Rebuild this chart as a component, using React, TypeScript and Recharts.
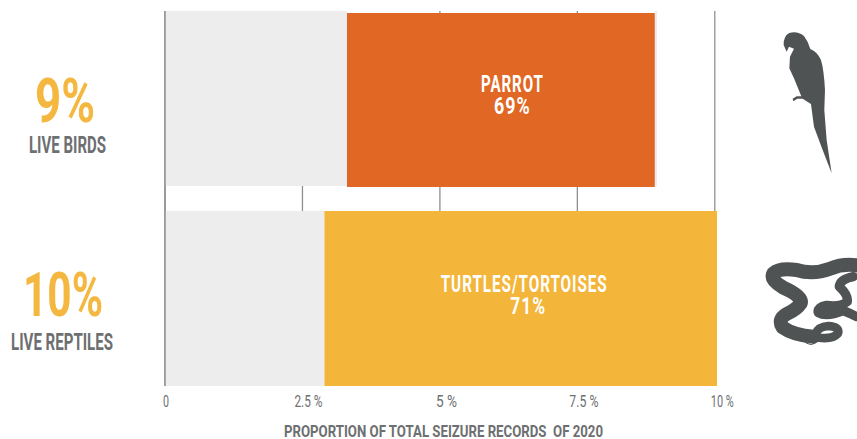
import React from 'react';
import { BarChart, Bar, XAxis, YAxis, CartesianGrid, LabelList } from 'recharts';

const categories = ['LIVE BIRDS', 'LIVE REPTILES'];
const shares = ['9%', '10%'];
const leadGrey = [3.31, 2.9];
const parrot = [5.6, 0];
const turtles = [0, 7.14];
const tailGrey = [0.04, 0];
const barTitles = ['PARROT', 'TURTLES/TORTOISES'];
const barShares = ['69%', '71%'];
const xTicks = [0, 2.5, 5, 7.5, 10];
const xTickLabels = ['0', '2.5 %', '5 %', '7.5 %', '10 %'];
const axisTitle = 'PROPORTION OF TOTAL SEIZURE RECORDS  OF 2020';

const data = categories.map((name, i) => ({
  name,
  share: shares[i],
  leadGrey: leadGrey[i],
  parrot: parrot[i],
  turtles: turtles[i],
  tailGrey: tailGrey[i],
  title: barTitles[i],
}));

const FONT = 'Roboto, "Liberation Sans", sans-serif';
const GREY = '#6d6f71';
const YELLOW = '#f4b740';
const SIL = '#505354';

const CategoryTick = (props: any) => {
  const { y, payload, index } = props;
  const first = index === 0;
  return (
    <g fontFamily={FONT} textAnchor="middle">
      <text x={first ? 65 : 63} y={y + (first ? 24 : 18)} fontSize={62} fontWeight={700} fill={YELLOW} textLength={first ? 60 : 80} lengthAdjust="spacingAndGlyphs">
        {shares[index]}
      </text>
      <text x={first ? 67.5 : 62} y={y + (first ? 55 : 52)} fontSize={24} fontWeight={700} fill={GREY} textLength={first ? 77 : 102} lengthAdjust="spacingAndGlyphs">
        {payload.value}
      </text>
    </g>
  );
};

const tickWidths = [6, 28, 21, 29, 23];
const tickOffsets = [1, 6, 6.5, 6.5, 7.5];
const ValueTick = (props: any) => {
  const { x, y, index } = props;
  return (
    <text x={x + tickOffsets[index]} y={y + 9} textAnchor="middle" fontFamily={FONT} fontSize={16} fill={GREY} textLength={tickWidths[index]} lengthAdjust="spacingAndGlyphs">
      {xTickLabels[index]}
    </text>
  );
};

const BarCaption = (props: any) => {
  const { x, y, width, height, value } = props;
  if (!width) return null;
  const i = barTitles.indexOf(value);
  const first = i === 0;
  const cx = x + width / 2 + (first ? 11.5 : 3.5);
  const cy = y + height / 2;
  return (
    <g fontFamily={FONT} fontWeight={700} fontSize={24} fill="#fff" textAnchor="middle" letterSpacing={1.5}>
      <text x={cx} y={cy - 7} textLength={first ? 63 : 167} lengthAdjust="spacingAndGlyphs">{barTitles[i]}</text>
      <text x={first ? cx : cx + 4} y={cy + 15} textLength={first ? 37 : 36} lengthAdjust="spacingAndGlyphs">{barShares[i]}</text>
    </g>
  );
};

const OrangeShape = (props: any) => {
  const { x, y, width, height, fill } = props;
  if (!width) return null;
  return <rect x={x} y={y + 2} width={width} height={height - 1} fill={fill} />;
};

const AxisTitle = () => (
  <text x={443.5} y={437} textAnchor="middle" fontFamily={FONT} fontWeight={700} fontSize={17} fill={GREY} textLength={319} lengthAdjust="spacingAndGlyphs" xmlSpace="preserve">
    {axisTitle}
  </text>
);

const Parrot = () => (
  <path
    fill={SIL}
    transform="translate(640 0) scale(0.3333)"
    d="M440 155 L431 135 Q430 108 448 99 Q472 92 492 108 Q505 125 511 147 Q532 155 543 180 Q552 210 555 270 L553 330 L560 420 L575 520 L546 445 L522 380 L513 312 L488 296 L472 296 L460 304 L458 296 L470 289 L484 289 L462 235 L448 205 L450 170 L462 146 L447 140 Z"
  />
);

const Snake = () => (
  <g transform="translate(640 220) scale(0.3333)" fill="none" stroke={SIL} strokeLinecap="round" strokeLinejoin="round">
    <path strokeWidth={42} d="M660 138 Q615 128 570 146 Q520 165 470 150 Q420 142 400 160 Q390 180 430 203 Q490 230 482 250 Q470 268 440 282 Q412 298 428 322 Q460 345 520 350" />
    <path strokeWidth={26} d="M520 350 Q575 362 594 340 Q600 320 565 318 Q535 320 528 340" />
    <path strokeWidth={28} d="M640 170 Q600 178 598 200 Q625 225 622 245 Q600 262 560 256 Q530 262 535 278 Q560 292 610 272 Q630 280 650 290" />
    <path strokeWidth={3} d="M445 351 Q480 352 500 370 Q515 378 525 370" />
  </g>
);

export default function App() {
  return (
    <div style={{ position: 'absolute', left: 0, top: 0, width: 857, height: 439, background: '#fff', overflow: 'hidden' }}>
      <BarChart
        width={857}
        height={439}
        data={data}
        layout="vertical"
        margin={{ top: 11, right: 140, bottom: 0, left: 0 }}
        barSize={175}
      >
        <CartesianGrid vertical horizontal={false} stroke="#8f9091" strokeWidth={1.3} verticalValues={xTicks} />
        <XAxis
          type="number"
          domain={[0, 10]}
          ticks={xTicks}
          axisLine={false}
          tickLine={false}
          height={53}
          tick={<ValueTick />}
          interval={0}
          tickMargin={6}
        />
        <YAxis
          type="category"
          dataKey="name"
          width={165}
          axisLine={{ stroke: '#8f9091', strokeWidth: 1.5 }}
          tickLine={false}
          tick={<CategoryTick />}
          interval={0}
          padding={{ top: -13, bottom: -12 }}
        />
        <Bar dataKey="leadGrey" stackId="s" fill="#ededed" isAnimationActive={false} />
        <Bar dataKey="parrot" stackId="s" fill="#e16725" isAnimationActive={false} shape={<OrangeShape />}>
          <LabelList dataKey="title" content={<BarCaption />} />
        </Bar>
        <Bar dataKey="turtles" stackId="s" fill="#f3b53a" isAnimationActive={false}>
          <LabelList dataKey="title" content={<BarCaption />} />
        </Bar>
        <Bar dataKey="tailGrey" stackId="s" fill="#ededed" isAnimationActive={false} />
        <AxisTitle />
        <Parrot />
        <Snake />
      </BarChart>
    </div>
  );
}
